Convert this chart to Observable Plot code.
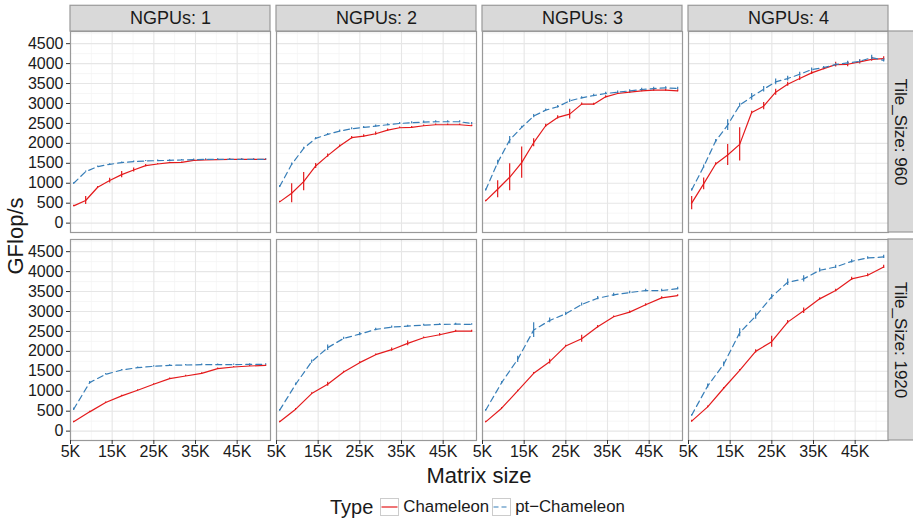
<!DOCTYPE html>
<html>
<head>
<meta charset="utf-8">
<script src="https://cdn.jsdelivr.net/npm/d3@7"></script>
<script src="https://cdn.jsdelivr.net/npm/@observablehq/plot@0.6"></script>
<style>
  html, body { margin: 0; padding: 0; background: #fff; }
  body { font-family: 'Liberation Sans', Arial, Helvetica, sans-serif; color: #1a1a1a; }
  #wrap { position: relative; width: 913px; height: 520px; overflow: hidden; }
  #chart svg { display: block; }
  .ytitle { position: absolute; left: 16px; top: 236px; transform: translate(-50%, -50%) rotate(-90deg); font-size: 22px; line-height: 1; white-space: nowrap; }
  .xtitle { position: absolute; left: 479px; top: 476px; transform: translate(-50%, -50%); font-size: 22px; line-height: 1; white-space: nowrap; }
  .legend { position: absolute; left: 330px; top: 495px; height: 24px; display: flex; align-items: center; white-space: nowrap; line-height: 1; }
  .legend .ttl { font-size: 20px; margin-right: 7px; }
  .legend .lab { font-size: 16.8px; margin-left: 4px; margin-right: 3px; }
  .legend svg { display: block; }
</style>
</head>
<body>
<div id="wrap">
  <div id="chart"></div>
  <div class="ytitle">GFlop/s</div>
  <div class="xtitle">Matrix size</div>
  <div class="legend" id="legend"></div>
</div>
<script>
// ---------- data ----------
const ngpus = [1, 2, 3, 4];
const tiles = [960, 1920];
const types = ["Chameleon", "pt-Chameleon"];
const typeLabels = ["Chameleon", "pt\u2212Chameleon"];
const colors = ["#e41a1c", "#377eb8"];

const sizes960  = [5760, 8640, 11520, 14400, 17280, 20160, 23040, 25920, 28800, 31680, 34560, 37440, 40320, 43200, 46080, 48960, 51840];
const sizes1920 = [5760, 9600, 13440, 17280, 21120, 24960, 28800, 32640, 36480, 40320, 44160, 48000, 51840];

// Tile_Size 960
const cham960_1 = [433, 567, 900, 1067, 1217, 1333, 1442, 1483, 1517, 1525, 1575, 1583, 1592, 1600, 1600, 1600, 1600];
const chamErr960_1 = [15, 100, 20, 60, 80, 50, 30, 15, 10, 10, 10, 10, 10, 10, 10, 10, 10];
const pt960_1 = [1000, 1292, 1417, 1475, 1517, 1542, 1558, 1567, 1575, 1583, 1592, 1600, 1600, 1600, 1600, 1600, 1600];
const ptErr960_1 = [15, 15, 15, 15, 15, 15, 15, 15, 15, 15, 15, 15, 15, 15, 15, 15, 15];

const cham960_2 = [533, 750, 1042, 1433, 1692, 1933, 2142, 2183, 2242, 2333, 2392, 2400, 2442, 2467, 2467, 2467, 2442];
const chamErr960_2 = [15, 240, 230, 65, 40, 25, 30, 30, 40, 30, 20, 20, 20, 20, 20, 20, 20];
const pt960_2 = [917, 1475, 1875, 2125, 2225, 2308, 2367, 2400, 2433, 2467, 2500, 2517, 2533, 2542, 2542, 2542, 2500];
const ptErr960_2 = [25, 30, 25, 25, 25, 25, 25, 25, 25, 25, 25, 25, 25, 25, 25, 25, 25];

const cham960_3 = [558, 850, 1150, 1517, 2017, 2442, 2650, 2733, 2983, 2983, 3167, 3250, 3283, 3317, 3333, 3333, 3317];
const chamErr960_3 = [15, 212, 340, 390, 100, 40, 40, 125, 30, 25, 30, 25, 25, 25, 25, 25, 25];
const pt960_3 = [833, 1517, 2083, 2400, 2683, 2833, 2917, 3067, 3142, 3200, 3250, 3283, 3317, 3350, 3375, 3392, 3375];
const ptErr960_3 = [20, 60, 90, 30, 40, 30, 30, 40, 30, 30, 30, 30, 30, 30, 30, 30, 30];

const cham960_4 = [500, 983, 1483, 1708, 1975, 2775, 2933, 3283, 3483, 3625, 3767, 3875, 3975, 3983, 4042, 4108, 4125];
const chamErr960_4 = [167, 146, 30, 262, 417, 30, 90, 75, 50, 50, 40, 30, 60, 60, 50, 50, 50];
const pt960_4 = [833, 1417, 2058, 2458, 2958, 3167, 3358, 3542, 3625, 3733, 3850, 3900, 3975, 4017, 4058, 4150, 4083];
const ptErr960_4 = [30, 40, 40, 133, 50, 83, 70, 70, 60, 50, 40, 30, 30, 40, 40, 60, 40];

// Tile_Size 1920
const cham1920_1 = [233, 483, 717, 883, 1025, 1175, 1317, 1383, 1450, 1567, 1608, 1633, 1650];
const chamErr1920_1 = [15, 15, 15, 15, 15, 15, 15, 15, 15, 15, 15, 15, 15];
const pt1920_1 = [550, 1217, 1425, 1533, 1592, 1625, 1650, 1658, 1667, 1667, 1667, 1675, 1675];
const ptErr1920_1 = [30, 30, 20, 15, 15, 15, 15, 15, 15, 15, 15, 15, 15];

const cham1920_2 = [233, 550, 942, 1175, 1483, 1717, 1917, 2042, 2200, 2342, 2417, 2508, 2508];
const chamErr1920_2 = [15, 15, 20, 50, 20, 20, 20, 40, 60, 20, 30, 20, 20];
const pt1920_2 = [525, 1175, 1742, 2092, 2325, 2433, 2550, 2608, 2633, 2658, 2675, 2683, 2675];
const ptErr1920_2 = [20, 30, 40, 70, 30, 40, 30, 30, 20, 20, 20, 20, 20];

const cham1920_3 = [233, 575, 1008, 1450, 1742, 2133, 2317, 2617, 2867, 2983, 3167, 3342, 3400];
const chamErr1920_3 = [15, 15, 20, 20, 60, 20, 90, 30, 20, 30, 30, 30, 20];
const pt1920_3 = [525, 1217, 1800, 2533, 2775, 2942, 3175, 3333, 3417, 3475, 3525, 3525, 3575];
const ptErr1920_3 = [20, 30, 80, 183, 60, 40, 40, 40, 40, 30, 30, 30, 30];

const cham1920_4 = [250, 608, 1075, 1525, 2000, 2242, 2733, 3017, 3317, 3525, 3817, 3908, 4117];
const chamErr1920_4 = [20, 20, 20, 20, 40, 137, 40, 70, 30, 30, 40, 40, 40];
const pt1920_4 = [400, 1133, 1675, 2467, 2883, 3367, 3733, 3817, 4033, 4117, 4258, 4342, 4367];
const ptErr1920_4 = [20, 50, 60, 100, 80, 60, 80, 80, 50, 40, 40, 30, 40];

const xTicks = [5000, 15000, 25000, 35000, 45000];
const xMinor = [10000, 20000, 30000, 40000, 50000];
const yTicks = [0, 500, 1000, 1500, 2000, 2500, 3000, 3500, 4000, 4500];
const yMinor = [250, 750, 1250, 1750, 2250, 2750, 3250, 3750, 4250, 4750];

// ---------- build table ----------
const series = [
  [960, 1, sizes960, cham960_1, chamErr960_1, pt960_1, ptErr960_1],
  [960, 2, sizes960, cham960_2, chamErr960_2, pt960_2, ptErr960_2],
  [960, 3, sizes960, cham960_3, chamErr960_3, pt960_3, ptErr960_3],
  [960, 4, sizes960, cham960_4, chamErr960_4, pt960_4, ptErr960_4],
  [1920, 1, sizes1920, cham1920_1, chamErr1920_1, pt1920_1, ptErr1920_1],
  [1920, 2, sizes1920, cham1920_2, chamErr1920_2, pt1920_2, ptErr1920_2],
  [1920, 3, sizes1920, cham1920_3, chamErr1920_3, pt1920_3, ptErr1920_3],
  [1920, 4, sizes1920, cham1920_4, chamErr1920_4, pt1920_4, ptErr1920_4]
];
const rows = [];
for (const [tile, ng, sizes, cv, ce, pv, pe] of series) {
  sizes.forEach((s, i) => {
    rows.push({tile, ngpu: ng, type: "Chameleon", size: s, v: cv[i], e: ce[i]});
    rows.push({tile, ngpu: ng, type: "pt-Chameleon", size: s, v: pv[i], e: pe[i]});
  });
}
const cham = rows.filter(d => d.type === "Chameleon");
const pt = rows.filter(d => d.type === "pt-Chameleon");

const xDomain = [5000, 53000];
const yDomain = [-235, 4805];
const stripTopY = 5450;     // extends above panel into top margin
const stripRightX = 59200;  // extends right of last panel into right margin

const dash = "6,4";
const lw = 1.2;

const chart = Plot.plot({
  width: 913,
  height: 485,
  marginLeft: 70,
  marginRight: 24.7,
  marginTop: 30.7,
  marginBottom: 44,
  style: {fontFamily: "'Liberation Sans', Arial, Helvetica, sans-serif", color: "#1a1a1a", background: "white", overflow: "visible"},
  x: {domain: xDomain},
  y: {domain: yDomain},
  fx: {domain: ngpus, paddingInner: 0.03, paddingOuter: 0, axis: null},
  fy: {domain: tiles, paddingInner: 0.034, paddingOuter: 0, axis: null},
  color: {domain: types, range: colors},
  marks: [
    Plot.gridX({ticks: xMinor, stroke: "#f4f4f4", strokeOpacity: 1, strokeWidth: 0.8}),
    Plot.gridY({ticks: yMinor, stroke: "#f4f4f4", strokeOpacity: 1, strokeWidth: 0.8}),
    Plot.gridX({ticks: xTicks, stroke: "#e6e6e6", strokeOpacity: 1, strokeWidth: 1.1}),
    Plot.gridY({ticks: yTicks, stroke: "#e6e6e6", strokeOpacity: 1, strokeWidth: 1.1}),
    Plot.line(cham, {fx: "ngpu", fy: "tile", x: "size", y: "v", z: null, stroke: colors[0], strokeWidth: lw}),
    Plot.line(pt, {fx: "ngpu", fy: "tile", x: "size", y: "v", z: null, stroke: colors[1], strokeWidth: lw, strokeDasharray: dash}),
    Plot.ruleX(cham, {fx: "ngpu", fy: "tile", x: "size", y1: d => d.v - d.e, y2: d => d.v + d.e, stroke: colors[0], strokeWidth: lw}),
    Plot.ruleX(pt, {fx: "ngpu", fy: "tile", x: "size", y1: d => d.v - d.e, y2: d => d.v + d.e, stroke: colors[1], strokeWidth: lw}),
    Plot.frame({stroke: "#999999", strokeWidth: 1.2}),
    // top strips
    Plot.rect(ngpus, {fx: d => d, fy: () => 960, x1: xDomain[0], x2: xDomain[1], y1: yDomain[1], y2: stripTopY, fill: "#d9d9d9", stroke: "#999999", strokeWidth: 1.2}),
    Plot.text(ngpus, {fx: d => d, fy: () => 960, x: (xDomain[0] + xDomain[1]) / 2, y: (yDomain[1] + stripTopY) / 2, text: d => `NGPUs: ${d}`, fontSize: 18, fill: "#1a1a1a"}),
    // right strips
    Plot.rect(tiles, {fy: d => d, fx: () => 4, x1: xDomain[1], x2: stripRightX, y1: yDomain[0], y2: yDomain[1], fill: "#d9d9d9", stroke: "#999999", strokeWidth: 1.2}),
    Plot.text(tiles, {fy: d => d, fx: () => 4, x: (xDomain[1] + stripRightX) / 2 - 200, y: (yDomain[0] + yDomain[1]) / 2, text: d => `Tile_Size: ${d}`, rotate: 90, fontSize: 17, fill: "#1a1a1a"}),
    // axes
    Plot.axisY({ticks: yTicks, tickFormat: d => String(d), tickSize: 4, tickPadding: 3, fontSize: 16, label: null, stroke: "#333"}),
    Plot.axisX({ticks: xTicks, tickFormat: d => (d / 1000) + "K", tickSize: 4, tickPadding: 1, fontSize: 16, label: null, stroke: "#333"})
  ]
});
document.getElementById("chart").appendChild(chart);

// ---------- legend ----------
const legend = document.getElementById("legend");
const ttl = document.createElement("span");
ttl.className = "ttl";
ttl.textContent = "Type";
legend.appendChild(ttl);
types.forEach((t, i) => {
  const ns = "http://www.w3.org/2000/svg";
  const svg = document.createElementNS(ns, "svg");
  svg.setAttribute("width", 19);
  svg.setAttribute("height", 18);
  const r = document.createElementNS(ns, "rect");
  r.setAttribute("x", 0.5); r.setAttribute("y", 0.5);
  r.setAttribute("width", 18); r.setAttribute("height", 17);
  r.setAttribute("fill", "white"); r.setAttribute("stroke", "#cccccc");
  svg.appendChild(r);
  const l = document.createElementNS(ns, "line");
  l.setAttribute("x1", 1.5); l.setAttribute("x2", 17.5);
  l.setAttribute("y1", 9); l.setAttribute("y2", 9);
  l.setAttribute("stroke", colors[i]); l.setAttribute("stroke-width", lw);
  if (i === 1) l.setAttribute("stroke-dasharray", "5,3");
  svg.appendChild(l);
  legend.appendChild(svg);
  const lab = document.createElement("span");
  lab.className = "lab";
  lab.textContent = typeLabels[i];
  legend.appendChild(lab);
});
</script>
</body>
</html>
